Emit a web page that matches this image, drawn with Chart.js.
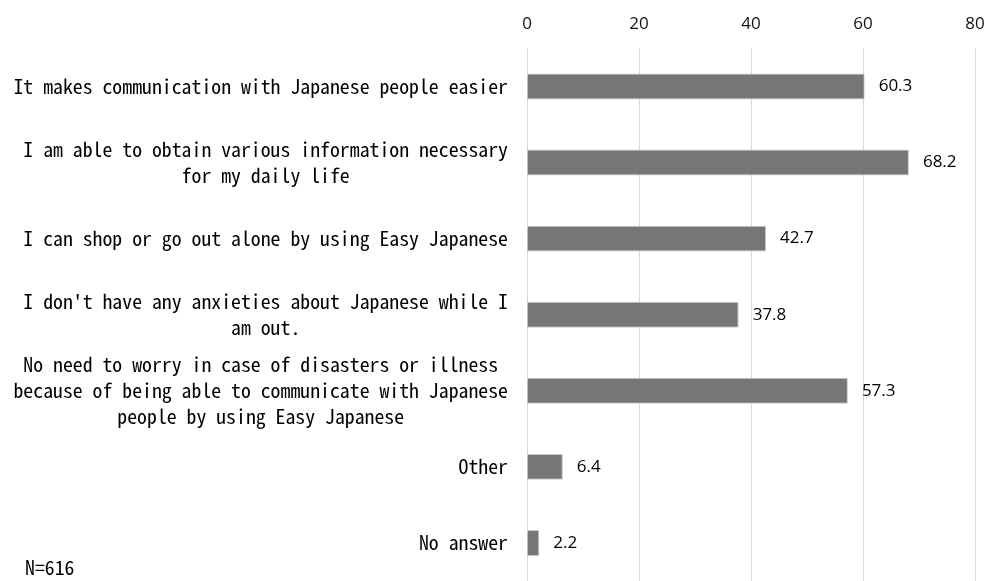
<!DOCTYPE html>
<html>
<head>
<meta charset="utf-8">
<script src="https://cdn.jsdelivr.net/npm/chart.js@4/dist/chart.umd.min.js"></script>
<style>
  html, body { margin: 0; padding: 0; background: #fff; }
  #wrap { width: 988px; height: 581px; }
</style>
</head>
<body>
<div id="wrap"><canvas id="chart"></canvas></div>
<script>
const categories = [
  ['It makes communication with Japanese people easier'],
  ['I am able to obtain various information necessary', 'for my daily life'],
  ['I can shop or go out alone by using Easy Japanese'],
  ["I don't have any anxieties about Japanese while I", 'am out.'],
  ['No need to worry in case of disasters or illness', 'because of being able to communicate with Japanese', 'people by using Easy Japanese'],
  ['Other'],
  ['No answer']
];
const values = [60.3, 68.2, 42.7, 37.8, 57.3, 6.4, 2.2];
const tickValues = [0, 20, 40, 60, 80];
const noteText = 'N=616';

const labelFont = '19.8px "Noto Sans Mono CJK JP", "Noto Sans CJK JP", "Liberation Mono", monospace';
const numFont = { family: '"Open Sans", "Liberation Sans", sans-serif', size: 17 };

const categoryLabels = {
  id: 'categoryLabels',
  afterDraw(chart) {
    const { ctx } = chart;
    const yScale = chart.scales.y;
    const right = chart.chartArea.left - 19;
    ctx.save();
    ctx.font = labelFont;
    ctx.fillStyle = '#000';
    ctx.textAlign = 'center';
    ctx.textBaseline = 'middle';
    const lineH = 26;
    categories.forEach((lines, i) => {
      const cy = yScale.getPixelForValue(i);
      const maxW = Math.max(...lines.map((l) => ctx.measureText(l).width));
      const cx = right - maxW / 2;
      const top = cy - (lines.length - 1) * lineH / 2;
      lines.forEach((line, j) => ctx.fillText(line, cx, top + j * lineH));
    });
    ctx.textAlign = 'left';
    ctx.fillText(noteText, 25, 567);
    ctx.restore();
  }
};

const valueLabels = {
  id: 'valueLabels',
  afterDatasetsDraw(chart) {
    const { ctx } = chart;
    const meta = chart.getDatasetMeta(0);
    ctx.save();
    ctx.font = `${numFont.size}px ${numFont.family}`;
    ctx.fillStyle = '#000';
    ctx.textAlign = 'left';
    ctx.textBaseline = 'middle';
    meta.data.forEach((bar, i) => {
      ctx.fillText(String(values[i]), bar.x + 14, bar.y);
    });
    ctx.restore();
  }
};

new Chart(document.getElementById('chart'), {
  type: 'bar',
  data: {
    labels: categories.map((c) => c.join(' ')),
    datasets: [{
      data: values,
      backgroundColor: '#767676',
      borderColor: '#c8c8c8',
      borderWidth: 1,
      barPercentage: 0.34,
      categoryPercentage: 1
    }]
  },
  options: {
    indexAxis: 'y',
    responsive: true,
    maintainAspectRatio: false,
    animation: false,
    layout: { padding: { left: 519, right: 13, top: 0, bottom: 0 } },
    plugins: { legend: { display: false }, tooltip: { enabled: false } },
    scales: {
      x: {
        position: 'top',
        min: 0,
        max: 80,
        afterBuildTicks(scale) { scale.ticks = tickValues.map((v) => ({ value: v })); },
        afterFit(scale) { scale.paddingLeft = 0; scale.paddingRight = 0; },
        grid: { color: '#d9d9d9', lineWidth: 1, drawTicks: false },
        border: { display: false },
        ticks: { color: '#111', font: numFont, padding: 14 }
      },
      y: {
        ticks: { display: false },
        grid: { display: false },
        border: { display: false }
      }
    }
  },
  plugins: [categoryLabels, valueLabels]
});
</script>
</body>
</html>
